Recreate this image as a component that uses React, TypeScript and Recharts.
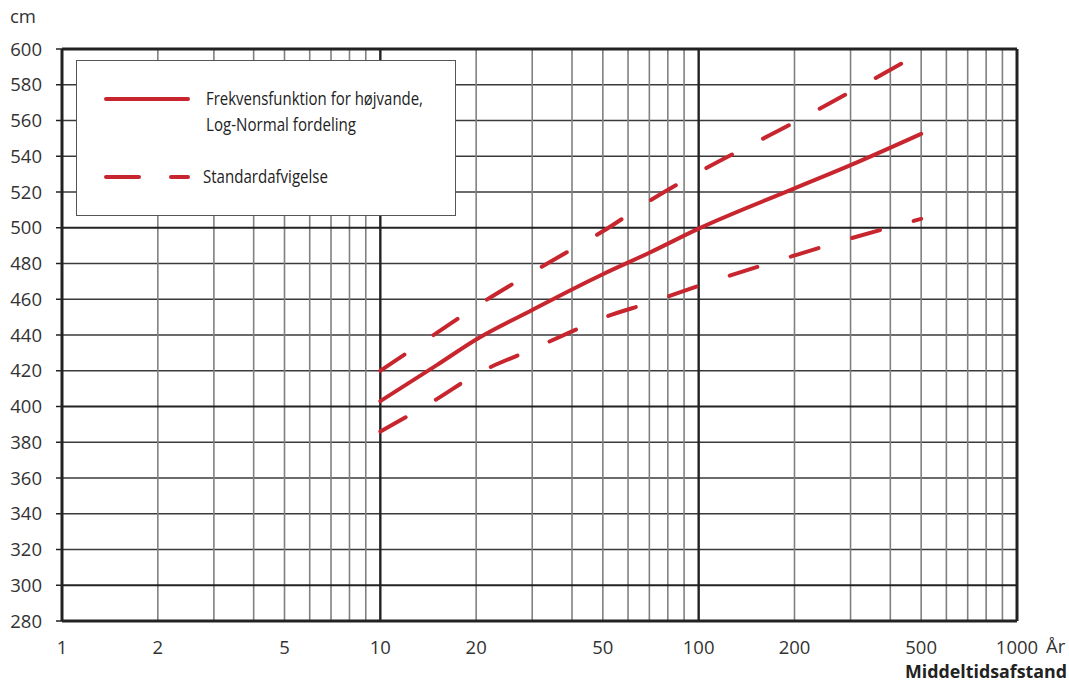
import React from 'react';
import { LineChart, Line, XAxis, YAxis, ReferenceLine } from 'recharts';

// middeltidsafstand i år
const years = [10, 15, 20, 30, 40, 50, 70, 100, 200, 300, 500];
// vandstand i cm
const frekvens = [403, 423, 437.5, 454, 465.5, 474, 486, 499.5, 522, 535, 552.5];
const oevre = [420, 441, 456, 475, 488, 498, 515, 531, 559, 576, 598];
const nedre = [386, 404, 418, 432, 442, 449.5, 458, 467.5, 484.5, 494, 505];

const xTicks = [1, 2, 5, 10, 20, 50, 100, 200, 500, 1000];
const yTicks = [280, 300, 320, 340, 360, 380, 400, 420, 440, 460, 480, 500, 520, 540, 560, 580, 600];
const xMinor = [2, 3, 4, 5, 6, 7, 8, 9, 20, 30, 40, 50, 60, 70, 80, 90, 200, 300, 400, 500, 600, 700, 800, 900];
const xMajor = [10, 100];
const yMajor = [300, 400, 500];

const RED = '#c8262e';
const FONT = '"Open Sans", "Noto Sans", sans-serif';

const data = years.map((y, i) => ({ aar: y, frekvens: frekvens[i], oevre: oevre[i], nedre: nedre[i] }));

export default function App() {
  return (
    <div style={{ position: 'absolute', left: 0, top: 0, width: 1069, height: 685, background: '#fff' }}>
      <LineChart width={1069} height={685} data={data} margin={{ top: 49, right: 52, left: 0, bottom: 0 }}>
        {yTicks
          .filter((v) => !yMajor.includes(v) && v !== 280 && v !== 600)
          .map((v) => (
            <ReferenceLine key={`h${v}`} y={v} stroke="#3a3a3a" strokeWidth={1.3} />
          ))}
        {xMinor.map((v) => (
          <ReferenceLine key={`v${v}`} x={v} stroke="#808080" strokeWidth={1.6} />
        ))}
        {yMajor.map((v) => (
          <ReferenceLine key={`hm${v}`} y={v} stroke="#222" strokeWidth={2.2} />
        ))}
        {xMajor.map((v) => (
          <ReferenceLine key={`vm${v}`} x={v} stroke="#222" strokeWidth={2.4} />
        ))}
        <ReferenceLine y={600} stroke="#222" strokeWidth={3} />
        <ReferenceLine x={1000} stroke="#222" strokeWidth={3} />
        <XAxis
          dataKey="aar"
          type="number"
          scale="log"
          domain={[1, 1000]}
          ticks={xTicks}
          interval={0}
          allowDataOverflow
          height={64}
          tickLine={false}
          tickSize={6}
          tickMargin={14}
          axisLine={{ stroke: '#222', strokeWidth: 3 }}
          tick={{ fontSize: 18.5, fill: '#333', fontFamily: FONT }}
        />
        <YAxis
          type="number"
          domain={[280, 600]}
          ticks={yTicks}
          interval={0}
          width={62}
          tickSize={6}
          tickMargin={14}
          tickLine={{ stroke: '#222', strokeWidth: 1.5 }}
          axisLine={{ stroke: '#222', strokeWidth: 3 }}
          tick={{ fontSize: 18.5, fill: '#333', fontFamily: FONT }}
        />
        <Line type="monotone" dataKey="oevre" stroke={RED} strokeWidth={4} strokeLinecap="round" strokeDasharray="29 35" dot={false} isAnimationActive={false} />
        <Line type="monotone" dataKey="nedre" stroke={RED} strokeWidth={4} strokeLinecap="round" strokeDasharray="29 35" dot={false} isAnimationActive={false} />
        <Line type="monotone" dataKey="frekvens" stroke={RED} strokeWidth={4} strokeLinecap="round" dot={false} isAnimationActive={false} />
      </LineChart>

      <div
        style={{
          position: 'absolute',
          left: 76,
          top: 60,
          width: 380,
          height: 156,
          boxSizing: 'border-box',
          border: '1.5px solid #555',
          background: '#fff',
        }}
      />

      <svg width={1069} height={685} style={{ position: 'absolute', left: 0, top: 0, pointerEvents: 'none' }}>
        <line x1={106} y1={99} x2={188} y2={99} stroke={RED} strokeWidth={4} strokeLinecap="round" />
        <line x1={106} y1={177} x2={139} y2={177} stroke={RED} strokeWidth={4} strokeLinecap="round" />
        <line x1={171} y1={177} x2={188} y2={177} stroke={RED} strokeWidth={4} strokeLinecap="round" />
        <text x={206} y={105} fontSize={18.5} fill="#222" fontFamily={FONT} textLength={217} lengthAdjust="spacingAndGlyphs">Frekvensfunktion for højvande,</text>
        <text x={206} y={131} fontSize={18.5} fill="#222" fontFamily={FONT} textLength={150} lengthAdjust="spacingAndGlyphs">Log-Normal fordeling</text>
        <text x={203} y={183} fontSize={18.5} fill="#222" fontFamily={FONT} textLength={125} lengthAdjust="spacingAndGlyphs">Standardafvigelse</text>
        <text x={10} y={23} fontSize={18.5} fill="#333" fontFamily={FONT}>cm</text>
        <text x={1046} y={653} fontSize={18.5} fill="#333" fontFamily={FONT}>År</text>
        <text x={905} y={678} fontSize={18} fontWeight="bold" fill="#222" fontFamily={FONT} textLength={162} lengthAdjust="spacingAndGlyphs">Middeltidsafstand</text>
      </svg>
    </div>
  );
}
